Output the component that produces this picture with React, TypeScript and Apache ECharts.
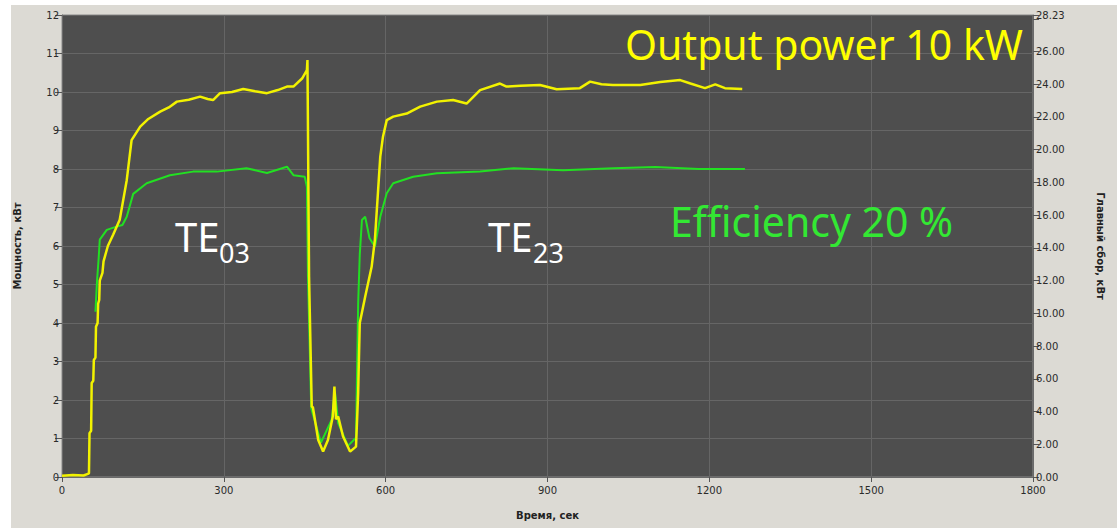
import React, { useEffect, useRef } from "react";
import * as echarts from "echarts";

const xTicks = [0, 300, 600, 900, 1200, 1500, 1800];

const powerTime = [
  0, 20, 40, 48, 50, 51, 54, 55, 58, 59, 62, 63, 66, 67, 69, 70, 75, 77, 85, 95,
  107, 120, 129, 145, 160, 182, 198, 213, 235, 256, 270, 280, 293, 315, 336, 358, 380, 400, 417, 429, 445,
  454, 455, 458, 463, 465, 475, 484, 493, 502, 505, 508, 512, 521, 534, 545, 549,
  552, 562, 574, 580, 586, 590, 595, 602, 614, 639, 664, 695, 725, 750, 775, 812,
  824, 850, 886, 917, 960, 979, 1000, 1021, 1072, 1109, 1146, 1165, 1192, 1211, 1229, 1261,
];
const powerValues = [
  0.03, 0.05, 0.04, 0.08, 0.1, 1.14, 1.2, 2.44, 2.5, 3.04, 3.1, 3.9, 4.0, 4.5, 4.6, 5.1, 5.3, 5.6, 6.0, 6.3,
  6.68, 7.71, 8.75, 9.1, 9.3, 9.49, 9.6, 9.75, 9.8, 9.88, 9.82, 9.79, 9.97, 10.0, 10.08, 10.02, 9.97, 10.05, 10.14, 10.14, 10.35,
  10.57, 10.83, 5.2, 1.82, 1.82, 0.96, 0.66, 0.96, 1.57, 2.35, 1.5, 1.57, 1.05, 0.66, 0.79, 2.18,
  4.0, 4.68, 5.46, 6.16, 7.45, 8.32, 8.84, 9.27, 9.36, 9.44, 9.62, 9.75, 9.79, 9.7, 10.05, 10.22,
  10.14, 10.16, 10.18, 10.07, 10.1, 10.27, 10.2, 10.18, 10.18, 10.26, 10.31, 10.22, 10.1, 10.2, 10.1, 10.08,
];

const effTime = [
  62, 65, 68, 70, 83, 101, 112, 120, 132, 157, 200, 243, 287, 342, 380, 417, 429, 450,
  454, 456, 462, 480, 500, 506, 512, 530, 545, 549, 552, 556, 562, 570, 580, 590, 602,
  614, 651, 695, 775, 837, 929, 1022, 1100, 1180, 1266,
];
const effValues = [
  10.1, 12.0, 13.4, 14.5, 15.1, 15.3, 15.4, 15.9, 17.3, 17.95, 18.44, 18.66, 18.66, 18.87, 18.58, 18.96, 18.44, 18.35,
  17.74, 12.2, 4.2, 2.1, 3.5, 5.2, 3.3, 1.9, 2.4, 10.6, 13.6, 15.7, 15.9, 14.6, 14.07, 15.9, 17.34,
  17.95, 18.35, 18.56, 18.66, 18.87, 18.75, 18.87, 18.94, 18.82, 18.82,
];

const leftAxisName = "Мощность, кВт";
const rightAxisName = "Главный сбор, кВт";
const xAxisName = "Время, сек";

export default function App() {
  const ref = useRef<HTMLDivElement>(null);
  useEffect(() => {
    if (!ref.current) return;
    const chart = echarts.init(ref.current, null, { renderer: "svg" });
    const labelFont = { fontFamily: "DejaVu Sans", fontSize: 10, color: "#2a2a2a" };
    const textFont = "Noto Sans";
    chart.setOption({
      animation: false,
      backgroundColor: "#ffffff",
      graphic: [
        { type: "rect", z: -10, shape: { x: 11, y: 5, width: 1117, height: 530 }, style: { fill: "#dcdad4" } },
        {
          type: "text", z: 100, x: 625, y: 44,
          style: { text: "Output power 10 kW", fill: "#ffff00", font: `41px "${textFont}"`, textVerticalAlign: "middle" },
        },
        {
          type: "text", z: 100, x: 670, y: 221,
          style: { text: "Efficiency 20 %", fill: "#33e833", font: `41px "${textFont}"`, textVerticalAlign: "middle" },
        },
        {
          type: "text", z: 100, x: 175, y: 236,
          style: { text: "TE", fill: "#ffffff", font: `40px "${textFont}"`, textVerticalAlign: "middle" },
        },
        {
          type: "text", z: 100, x: 219, y: 252,
          style: { text: "03", fill: "#ffffff", font: `27px "${textFont}"`, textVerticalAlign: "middle" },
        },
        {
          type: "text", z: 100, x: 488, y: 236,
          style: { text: "TE", fill: "#ffffff", font: `40px "${textFont}"`, textVerticalAlign: "middle" },
        },
        {
          type: "text", z: 100, x: 533, y: 252,
          style: { text: "23", fill: "#ffffff", font: `27px "${textFont}"`, textVerticalAlign: "middle" },
        },
      ],
      grid: {
        left: 62, right: 84, top: 15, bottom: 51,
        show: true, backgroundColor: "#4e4e4e", borderColor: "#8a8a8a", borderWidth: 1,
      },
      xAxis: {
        type: "value", min: 0, max: 1800, interval: 300,
        name: xAxisName, nameLocation: "middle", nameGap: 33,
        nameTextStyle: { fontFamily: "DejaVu Sans", fontSize: 10, color: "#222", fontWeight: "bold" },
        axisLine: { show: true, lineStyle: { color: "#6a6a6a" } },
        axisTick: { show: true, length: 5, lineStyle: { color: "#555" } },
        axisLabel: { ...labelFont, margin: 8, formatter: (v: number) => (xTicks.includes(v) ? String(v) : "") },
        splitLine: { show: true, lineStyle: { color: "#656565", width: 1 } },
      },
      yAxis: [
        {
          type: "value", min: 0, max: 12, interval: 1, position: "left",
          name: leftAxisName, nameLocation: "middle", nameGap: 40, nameRotate: 90,
          nameTextStyle: { fontFamily: "DejaVu Sans", fontSize: 10, color: "#222", fontWeight: "bold" },
          axisLine: { show: true, lineStyle: { color: "#6a6a6a" } },
          axisTick: { show: true, length: 7, lineStyle: { color: "#555" } },
          axisLabel: { ...labelFont, margin: 3 },
          splitLine: { show: true, lineStyle: { color: "#666666", width: 1 } },
        },
        {
          type: "value", min: 0, max: 28.23, interval: 2, position: "right",
          name: rightAxisName, nameLocation: "middle", nameGap: 62, nameRotate: -90,
          nameTextStyle: { fontFamily: "DejaVu Sans", fontSize: 10, color: "#222", fontWeight: "bold" },
          axisLine: { show: true, lineStyle: { color: "#6a6a6a" } },
          axisTick: { show: true, length: 6, lineStyle: { color: "#555" } },
          axisLabel: {
            ...labelFont, margin: 3,
            formatter: (v: number) => (Math.abs(v - 28) < 1e-6 ? "" : v.toFixed(2)),
          },
          splitLine: { show: false },
        },
      ],
      series: [
        {
          type: "line", yAxisIndex: 1, symbol: "none", z: 2,
          data: effTime.map((t, i) => [t, effValues[i]]),
          lineStyle: { color: "#22e022", width: 2 },
        },
        {
          type: "line", yAxisIndex: 0, symbol: "none", z: 3,
          data: powerTime.map((t, i) => [t, powerValues[i]]),
          lineStyle: { color: "#f2f200", width: 2.5 },
        },
      ],
    });
    return () => chart.dispose();
  }, []);
  return <div ref={ref} style={{ position: "fixed", left: 0, top: 0, width: 1117, height: 528 }} />;
}
